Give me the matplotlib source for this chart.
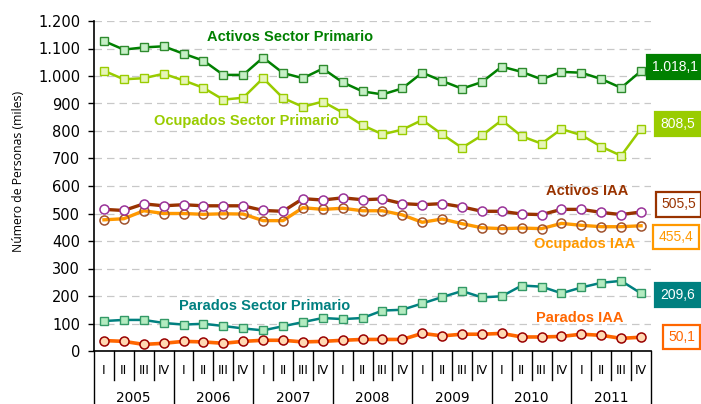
import matplotlib.pyplot as plt
from matplotlib.ticker import FuncFormatter, MultipleLocator

# Datos trimestrales 2005 I - 2011 IV (miles de personas)
years = ["2005", "2006", "2007", "2008", "2009", "2010", "2011"]
quarters = ["I", "II", "III", "IV"]

activos_sp = [1127, 1096, 1104, 1108, 1081, 1056, 1004, 1004, 1067, 1011, 992, 1027, 977, 944,
              933, 955, 1012, 982, 954, 978, 1034, 1015, 988, 1015, 1012, 989, 957, 1018.1]
ocupados_sp = [1019, 988, 992, 1008, 984, 957, 914, 921, 992, 920, 888, 907, 867, 821,
               788, 805, 840, 788, 739, 784, 839, 781, 754, 807, 785, 743, 710, 808.5]
activos_iaa = [515, 511, 535, 528, 532, 528, 528, 528, 511, 508, 554, 549, 557, 550,
               553, 536, 532, 536, 524, 508, 508, 498, 496, 515, 515, 504, 496, 505.5]
ocupados_iaa = [477, 481, 510, 500, 500, 497, 499, 498, 474, 474, 521, 515, 519, 510,
                510, 495, 468, 480, 463, 448, 445, 447, 445, 464, 457, 452, 452, 455.4]
parados_sp = [109, 113, 113, 102, 96, 99, 91, 82, 75, 90, 105, 120, 116, 120,
              147, 150, 173, 196, 218, 195, 199, 238, 234, 210, 231, 248, 255, 209.6]
parados_iaa = [38, 35, 24, 28, 35, 33, 28, 35, 39, 39, 33, 35, 39, 42,
               42, 42, 64, 55, 61, 61, 64, 51, 51, 53, 61, 57, 46, 50.1]

# colores
C_ASP = '#008000'
C_OSP = '#99CC00'
C_AIAA = '#993300'
C_OIAA = '#FF9900'
C_PSP = '#008080'
C_PIAA = '#FF6600'


def fmt_es(v, dec=0):
    s = f"{v:,.{dec}f}"
    return s.replace(",", "X").replace(".", ",").replace("X", ".")


W, H = 701, 404
fig = plt.figure(figsize=(W / 100, H / 100), dpi=100)
ax = fig.add_axes([94 / W, (H - 351) / H, 557 / W, 330 / H])

n = len(years) * len(quarters)
x = list(range(n))

# series
ax.plot(x, parados_iaa, color=C_PIAA, lw=2.6, marker='o', ms=6.5,
        mfc='#FFD9B3', mec='#990000', mew=1.1, zorder=4)
ax.plot(x, parados_sp, color=C_PSP, lw=1.8, marker='s', ms=5.5,
        mfc='#B3EBC0', mec='#339966', mew=1.0, zorder=4)
ax.plot(x, ocupados_iaa, color=C_OIAA, lw=2.4, marker='o', ms=6.5,
        mfc='none', mec='#A0522D', mew=1.1, zorder=4)
ax.plot(x, activos_iaa, color=C_AIAA, lw=2.4, marker='o', ms=6.5,
        mfc='white', mec='#993399', mew=1.1, zorder=5)
ax.plot(x, ocupados_sp, color=C_OSP, lw=1.8, marker='s', ms=5.5,
        mfc='#E6F5B8', mec=C_OSP, mew=1.0, zorder=4)
ax.plot(x, activos_sp, color=C_ASP, lw=1.8, marker='s', ms=5.5,
        mfc='#C6EFC6', mec='#2E8B2E', mew=1.0, zorder=4)

ax.set_xlim(-0.5, n - 0.5)
ax.set_ylim(0, 1200)
ax.yaxis.set_major_locator(MultipleLocator(100))
ax.yaxis.set_major_formatter(FuncFormatter(lambda v, p: fmt_es(v)))
ax.grid(axis='y', color='#C8C8C8', ls=(0, (6, 4)), lw=0.9, zorder=0)
ax.set_axisbelow(True)
for s in ['top', 'right']:
    ax.spines[s].set_visible(False)
ax.spines['left'].set_linewidth(1.2)
ax.spines['bottom'].set_linewidth(1.2)
ax.tick_params(axis='y', length=4, width=1, labelsize=10.5, pad=6)
ax.set_xticks([])

# eje de categorias en dos niveles
tr = ax.get_xaxis_transform()
for i in range(n + 1):
    xb = i - 0.5
    y_end = -0.165 if i % 4 == 0 else -0.088
    ax.plot([xb, xb], [0, y_end], color='black', lw=1.0, transform=tr, clip_on=False)
for i in range(n):
    ax.text(i, -0.058, quarters[i % 4], transform=tr, ha='center', va='center',
            fontsize=9)
for j, yr in enumerate(years):
    ax.text(j * 4 + 1.5, -0.12, yr, transform=tr, ha='center', va='top',
            fontsize=9.8)

fig.text(19 / W, 1 - 171 / H, "Número de Personas (miles)", rotation=90,
         ha='center', va='center', fontsize=8.8, family='Open Sans')

# etiquetas de series
lab = dict(fontweight='bold', family='Liberation Sans', fontsize=10.5,
           ha='center', va='center')
ax.text(9.36, 1143, "Activos Sector Primario", color=C_ASP, **lab)
ax.text(7.17, 837, "Ocupados Sector Primario", color=C_OSP, **lab)
ax.text(24.3, 583, "Activos IAA", color=C_AIAA, **lab)
ax.text(24.17, 389, "Ocupados IAA", color=C_OIAA, **lab)
ax.text(8.1, 164, "Parados Sector Primario", color=C_PSP, **lab)
ax.text(23.9, 119, "Parados IAA", color=C_PIAA, **lab)

# cajas con el ultimo valor
last_vals = [activos_sp[-1], ocupados_sp[-1], activos_iaa[-1],
             ocupados_iaa[-1], parados_sp[-1], parados_iaa[-1]]
boxes = [
    (675, 67, 'white', C_ASP, C_ASP),
    (678, 124, 'white', C_OSP, C_OSP),
    (678.5, 204.5, C_AIAA, 'white', C_AIAA),
    (676, 237, C_OIAA, 'white', C_OIAA),
    (677.5, 295, 'white', C_PSP, C_PSP),
    (681.5, 337, C_PIAA, 'white', C_PIAA),
]
for v, (cx, cy, tc, fc, ec) in zip(last_vals, boxes):
    fig.text(cx / W, 1 - cy / H, fmt_es(v, 1), color=tc, ha='center', va='center',
             fontsize=10, family='Liberation Sans',
             bbox=dict(boxstyle='square,pad=0.38', fc=fc, ec=ec, lw=1.6))

fig.savefig('out.png', dpi=100, facecolor='white')
